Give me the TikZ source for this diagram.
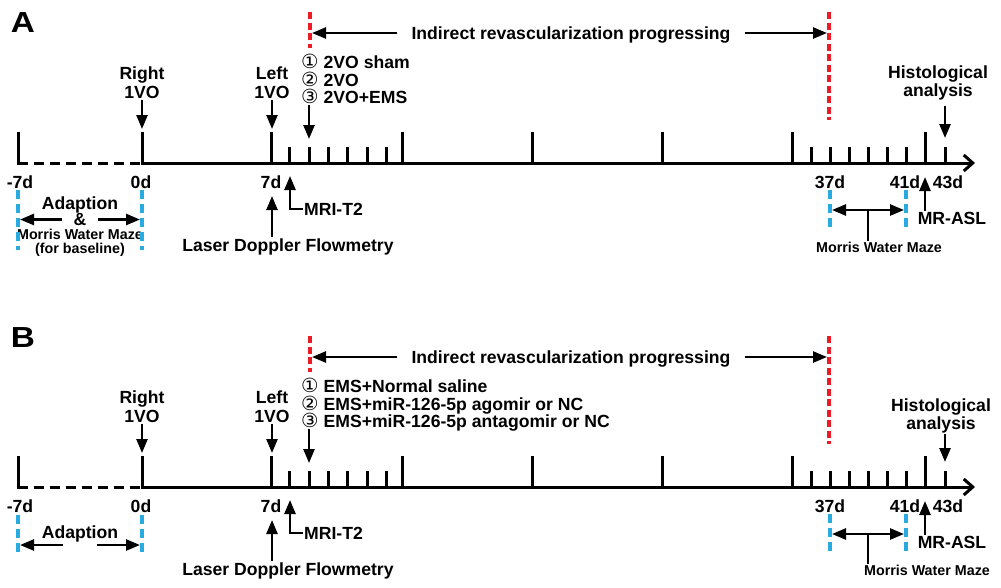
\documentclass[tikz,border=0pt]{standalone}
\usepackage{fontspec}
\usepackage{graphicx}
\setmainfont{Liberation Sans}
\newfontfamily\symfont{DejaVu Sans}
\usetikzlibrary{arrows.meta,calc}
\definecolor{redd}{RGB}{237,28,36}
\definecolor{bluu}{RGB}{41,171,226}
\newcommand\cnum[1]{\smash{\symfont\mdseries\fontsize{19.5}{17.5}\selectfont #1}}
\tikzset{
  lbl/.style={font=\fontsize{17.6}{19}\selectfont\bfseries, inner sep=1pt, text depth=0pt, align=center},
  sml/.style={font=\fontsize{14.3}{14}\selectfont\bfseries, inner sep=1pt, text depth=0pt, align=center},
  lst/.style={font=\fontsize{17.6}{17.5}\selectfont\bfseries, inner sep=1pt, text depth=0pt, align=left, anchor=west},
  hist/.style={font=\fontsize{17.6}{15}\selectfont\bfseries, inner sep=1pt, text depth=0pt, align=center},
  letter/.style={font=\fontsize{29}{29}\selectfont\bfseries, inner sep=0pt},
  arr/.style={line width=2.5pt, -{Triangle[length=14pt,width=11pt]}},
  darr/.style={line width=2.5pt, {Triangle[length=14pt,width=11pt]}-{Triangle[length=14pt,width=11pt]}},
  tk/.style={line width=3pt},
  axisline/.style={line width=3pt},
  reddash/.style={draw=redd, line width=4pt, dash pattern=on 7pt off 3.5pt},
  bluedash/.style={draw=bluu, line width=3.5pt, dash pattern=on 9pt off 5pt},
}
\newcommand\commonpanel[1]{%
  \coordinate (s#1) at (18,163);
  \coordinate (z#1) at (142,163);
  \coordinate (e#1) at (975,163);
  \draw[axisline, dash pattern=on 10pt off 6pt] (s#1) -- (z#1);
  \draw[axisline, -{Straight Barb[length=9pt,width=16pt]}] (z#1) -- (e#1);
  \foreach \x in {18,142,271,402,532,662,792,925} \draw[tk] (\x,132) -- (\x,164.5);
  \foreach \x in {289,309,328,347,367,386,811,830,849,868,887,906,945} \draw[tk] (\x,147) -- (\x,163);
  % day labels
  \node[lbl] (dm7#1) at (20,182) {-7d};
  \node[lbl] (d0#1) at (141,182) {0d};
  \node[lbl] (d7#1) at (271,182) {7d};
  \node[lbl] (d37#1) at (830,182) {37d};
  \node[lbl] (d41#1) at (905,182) {41d};
  \node[lbl] (d43#1) at (948,182) {43d};
  % 1VO labels
  \node[lbl] (rvo#1) at (142,82.5) {Right\\1VO};
  \coordinate (rvoT#1) at (142,129);
  \draw[arr] (rvo#1) -- (rvoT#1);
  \node[lbl] (lvo#1) at (272,82.5) {Left\\1VO};
  \coordinate (lvoT#1) at (272,129);
  \draw[arr] (lvo#1) -- (lvoT#1);
  % red dashed lines and progress label
  \coordinate (ra#1) at (310,12); \coordinate (rb#1) at (310,48);
  \coordinate (rc#1) at (829,12); \coordinate (rd#1) at (829,120);
  \draw[reddash] (ra#1) -- (rb#1);
  \draw[reddash] (rc#1) -- (rd#1);
  \node[lbl, inner xsep=14pt] (ind#1) at (571,33) {Indirect revascularization progressing};
  \draw[arr, shorten >=2pt] (ind#1.west) -- (ind#1.west -| ra#1);
  \draw[arr, shorten >=2pt] (ind#1.east) -- (ind#1.east -| rc#1);
  % below axis
  \node[lbl] (ldf#1) at (288,245) {Laser Doppler Flowmetry};
  \coordinate (ldfT#1) at (272,196);
  \draw[arr] (ldf#1.north -| ldfT#1) -- (ldfT#1);
  \node[lbl, anchor=west] (mri#1) at (303,209) {MRI-T2};
  \coordinate (mriT#1) at (290,176);
  \draw[arr] (mri#1.west) -| (mriT#1);
  \node[lbl] (asl#1) at (952,218) {MR-ASL};
  \coordinate (aslT#1) at (925,177);
  \draw[arr] (asl#1.north -| aslT#1) -- (aslT#1);
  \coordinate (ba#1) at (830,190); \coordinate (bb#1) at (830,229);
  \coordinate (bc#1) at (906,190); \coordinate (bd#1) at (906,229);
  \draw[bluedash] (ba#1) -- (bb#1);
  \draw[bluedash] (bc#1) -- (bd#1);
  \coordinate (mwL#1) at (830,210); \coordinate (mwR#1) at (906,210); \coordinate (mwC#1) at (868,210);
  \draw[darr, shorten <=2pt, shorten >=2pt] (mwL#1) -- (mwR#1);
}
\begin{document}
\begin{tikzpicture}[x=1pt,y=-1pt]
\fill[white] (0,0) rectangle (1001,587);
\path[use as bounding box] (0,0) rectangle (1001,587);

% ---------------- Panel A ----------------
\commonpanel{A}
\node[letter] (lA) at (23,23) {\scalebox{1.15}[1]{A}};
\node[lst] (listA) at (300,80) {\cnum{①}\hspace{5pt}2VO sham\\\cnum{②}\hspace{5pt}2VO\\\cnum{③}\hspace{5pt}2VO+EMS};
\coordinate (lsTA) at (309,139);
\draw[arr] (listA.south -| lsTA) -- (lsTA);
\node[hist] (histA) at (938,81) {Histological\\analysis};
\coordinate (hTA) at (945,138);
\draw[arr] ($(histA.south -| hTA)+(0,9)$) -- (hTA);
\node[lbl] (adA) at (80,203) {Adaption};
\node[lbl, inner xsep=11pt] (ampA) at (80,219.5) {\&};
\node[sml] (mwbA) at (80,241.5) {Morris Water Maze\\(for baseline)};
\coordinate (bl1A) at (18,190); \coordinate (bl2A) at (18,250);
\coordinate (bl3A) at (142,190); \coordinate (bl4A) at (142,250);
\draw[bluedash] (bl1A) -- (bl2A);
\draw[bluedash] (bl3A) -- (bl4A);
\draw[arr, shorten >=2pt] (ampA.west) -- (ampA.west -| bl1A);
\draw[arr, shorten >=2pt] (ampA.east) -- (ampA.east -| bl3A);
\node[sml] (mwrA) at (879,247) {Morris Water Maze};
\draw[line width=2.5pt] (mwCA) -- (mwCA |- mwrA.north);

% ---------------- Panel B ----------------
\begin{scope}[yshift=-324pt]
\commonpanel{B}
\end{scope}
\node[letter] (lB) at (23,338) {\scalebox{1.15}[1]{B}};
\node[lst] (listB) at (300,404) {\cnum{①}\hspace{5pt}EMS+Normal saline\\\cnum{②}\hspace{5pt}EMS+miR-126-5p agomir or NC\\\cnum{③}\hspace{5pt}EMS+miR-126-5p antagomir or NC};
\coordinate (lsTB) at (309,463);
\draw[arr] (listB.south -| lsTB) -- (lsTB);
\node[hist] (histB) at (941,414) {Histological\\analysis};
\coordinate (hTB) at (945,462);
\draw[arr] ($(histB.south -| hTB)+(0,4)$) -- (hTB);
\node[lbl] (adB) at (80,532) {Adaption};
\coordinate (bl1B) at (18,515); \coordinate (bl2B) at (18,552);
\coordinate (bl3B) at (142,515); \coordinate (bl4B) at (142,552);
\draw[bluedash] (bl1B) -- (bl2B);
\draw[bluedash] (bl3B) -- (bl4B);
\coordinate (aLB) at (63,545); \coordinate (aRB) at (97,545);
\draw[arr, shorten >=2pt] (aLB) -- (aLB -| bl1B);
\draw[arr, shorten >=2pt] (aRB) -- (aRB -| bl3B);
\node[sml] (mwrB) at (927,570) {Morris Water Maze};
\draw[line width=2.5pt] (mwCB) -- (mwCB |- mwrB.north);
\end{tikzpicture}
\end{document}
